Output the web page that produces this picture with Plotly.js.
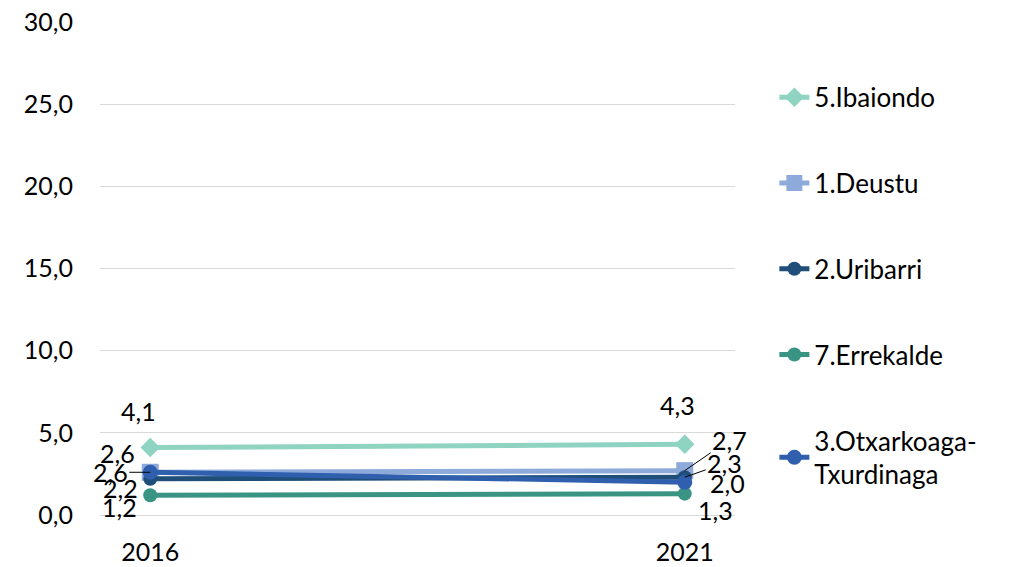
<!DOCTYPE html>
<html>
<head>
<meta charset="utf-8">
<script src="https://cdn.plot.ly/plotly-3.0.1.min.js"></script>
<style>html,body{margin:0;padding:0;background:#fff;}#chart{width:1010px;height:567px;}</style>
</head>
<body>
<div id="chart"></div>
<script>
const years = ['2016', '2021'];
const seriesNames = ['5.Ibaiondo', '1.Deustu', '2.Uribarri', '7.Errekalde', '3.Otxarkoaga-<br>Txurdinaga'];
const ibaiondo = [4.1, 4.3];
const deustu = [2.6, 2.7];
const uribarri = [2.2, 2.3];
const errekalde = [1.2, 1.3];
const otxarkoaga = [2.6, 2.0];
const yTicks = [0, 5, 10, 15, 20, 25, 30];

const colors = ['#8fd3c1', '#8eaadb', '#1f4e79', '#3a9483', '#2f5fad'];
const symbols = ['diamond', 'square', 'circle', 'circle', 'circle'];
const sizes = [15, 17, 14, 14, 15];
const allValues = [ibaiondo, deustu, uribarri, errekalde, otxarkoaga];

const FONT = 'Lato, "Open Sans", sans-serif';
const FS = 25;

const traces = allValues.map((vals, i) => ({
  type: 'scatter',
  mode: 'lines+markers',
  x: years,
  y: vals,
  name: seriesNames[i],
  legendgroup: 'g' + i,
  line: {color: colors[i], width: 5},
  marker: {color: colors[i], symbol: symbols[i], size: sizes[i]},
  hoverinfo: 'skip'
}));

const fmt = v => v.toFixed(1).replace('.', ',');

// [seriesIndex, pointIndex, xshift, yshift, leader offset or null]
const labelSpecs = [
  [0, 0, -12, 37, null],
  [1, 0, -33, 19, null],
  [4, 0, null, null, [-40, 0]],
  [2, 0, -30, -9, null],
  [3, 0, -31, -12, null],
  [0, 1, -7, 39, null],
  [1, 1, null, null, [45, -31]],
  [2, 1, null, null, [40, -14]],
  [4, 1, 43, -1, null],
  [3, 1, 31, -16, null]
];

const annotations = labelSpecs.map(s => {
  const si = s[0], pi = s[1], xs = s[2], ys = s[3], leader = s[4];
  const a = {
    x: pi, y: allValues[si][pi], xref: 'x', yref: 'y',
    text: fmt(allValues[si][pi]),
    font: {family: FONT, size: FS, color: '#000'}
  };
  if (leader) {
    a.showarrow = true; a.arrowhead = 0; a.arrowwidth = 1; a.arrowcolor = '#000';
    a.ax = leader[0]; a.ay = leader[1];
  } else {
    a.showarrow = false; a.xshift = xs; a.yshift = ys;
  }
  return a;
});

const layout = {
  width: 1010, height: 567,
  margin: {l: 100, r: 275, t: 22, b: 52},
  paper_bgcolor: '#fff', plot_bgcolor: '#fff',
  font: {family: FONT, size: FS, color: '#000'},
  separators: ',.',
  showlegend: true,
  legend: {
    x: 1.062, y: 0.895, xanchor: 'left', yanchor: 'top',
    font: {family: FONT, size: 26, color: '#000'},
    tracegroupgap: 49, itemwidth: 30, bgcolor: 'rgba(0,0,0,0)'
  },
  xaxis: {
    type: 'category', range: [-0.094, 1.094],
    showgrid: false, zeroline: false,
    showline: false, ticks: '', ticklabelstandoff: 20,
    tickfont: {family: FONT, size: FS, color: '#000'}
  },
  yaxis: {
    range: [0, 30], tickvals: yTicks, tickformat: '.1f',
    showgrid: true, gridcolor: '#d9d9d9', gridwidth: 1,
    zeroline: true, zerolinecolor: '#d9d9d9', zerolinewidth: 1,
    ticks: '', ticklabelstandoff: 26,
    tickfont: {family: FONT, size: FS, color: '#000'}
  },
  annotations: annotations
};

Plotly.newPlot('chart', traces, layout, {displayModeBar: false, staticPlot: true});
</script>
</body>
</html>
